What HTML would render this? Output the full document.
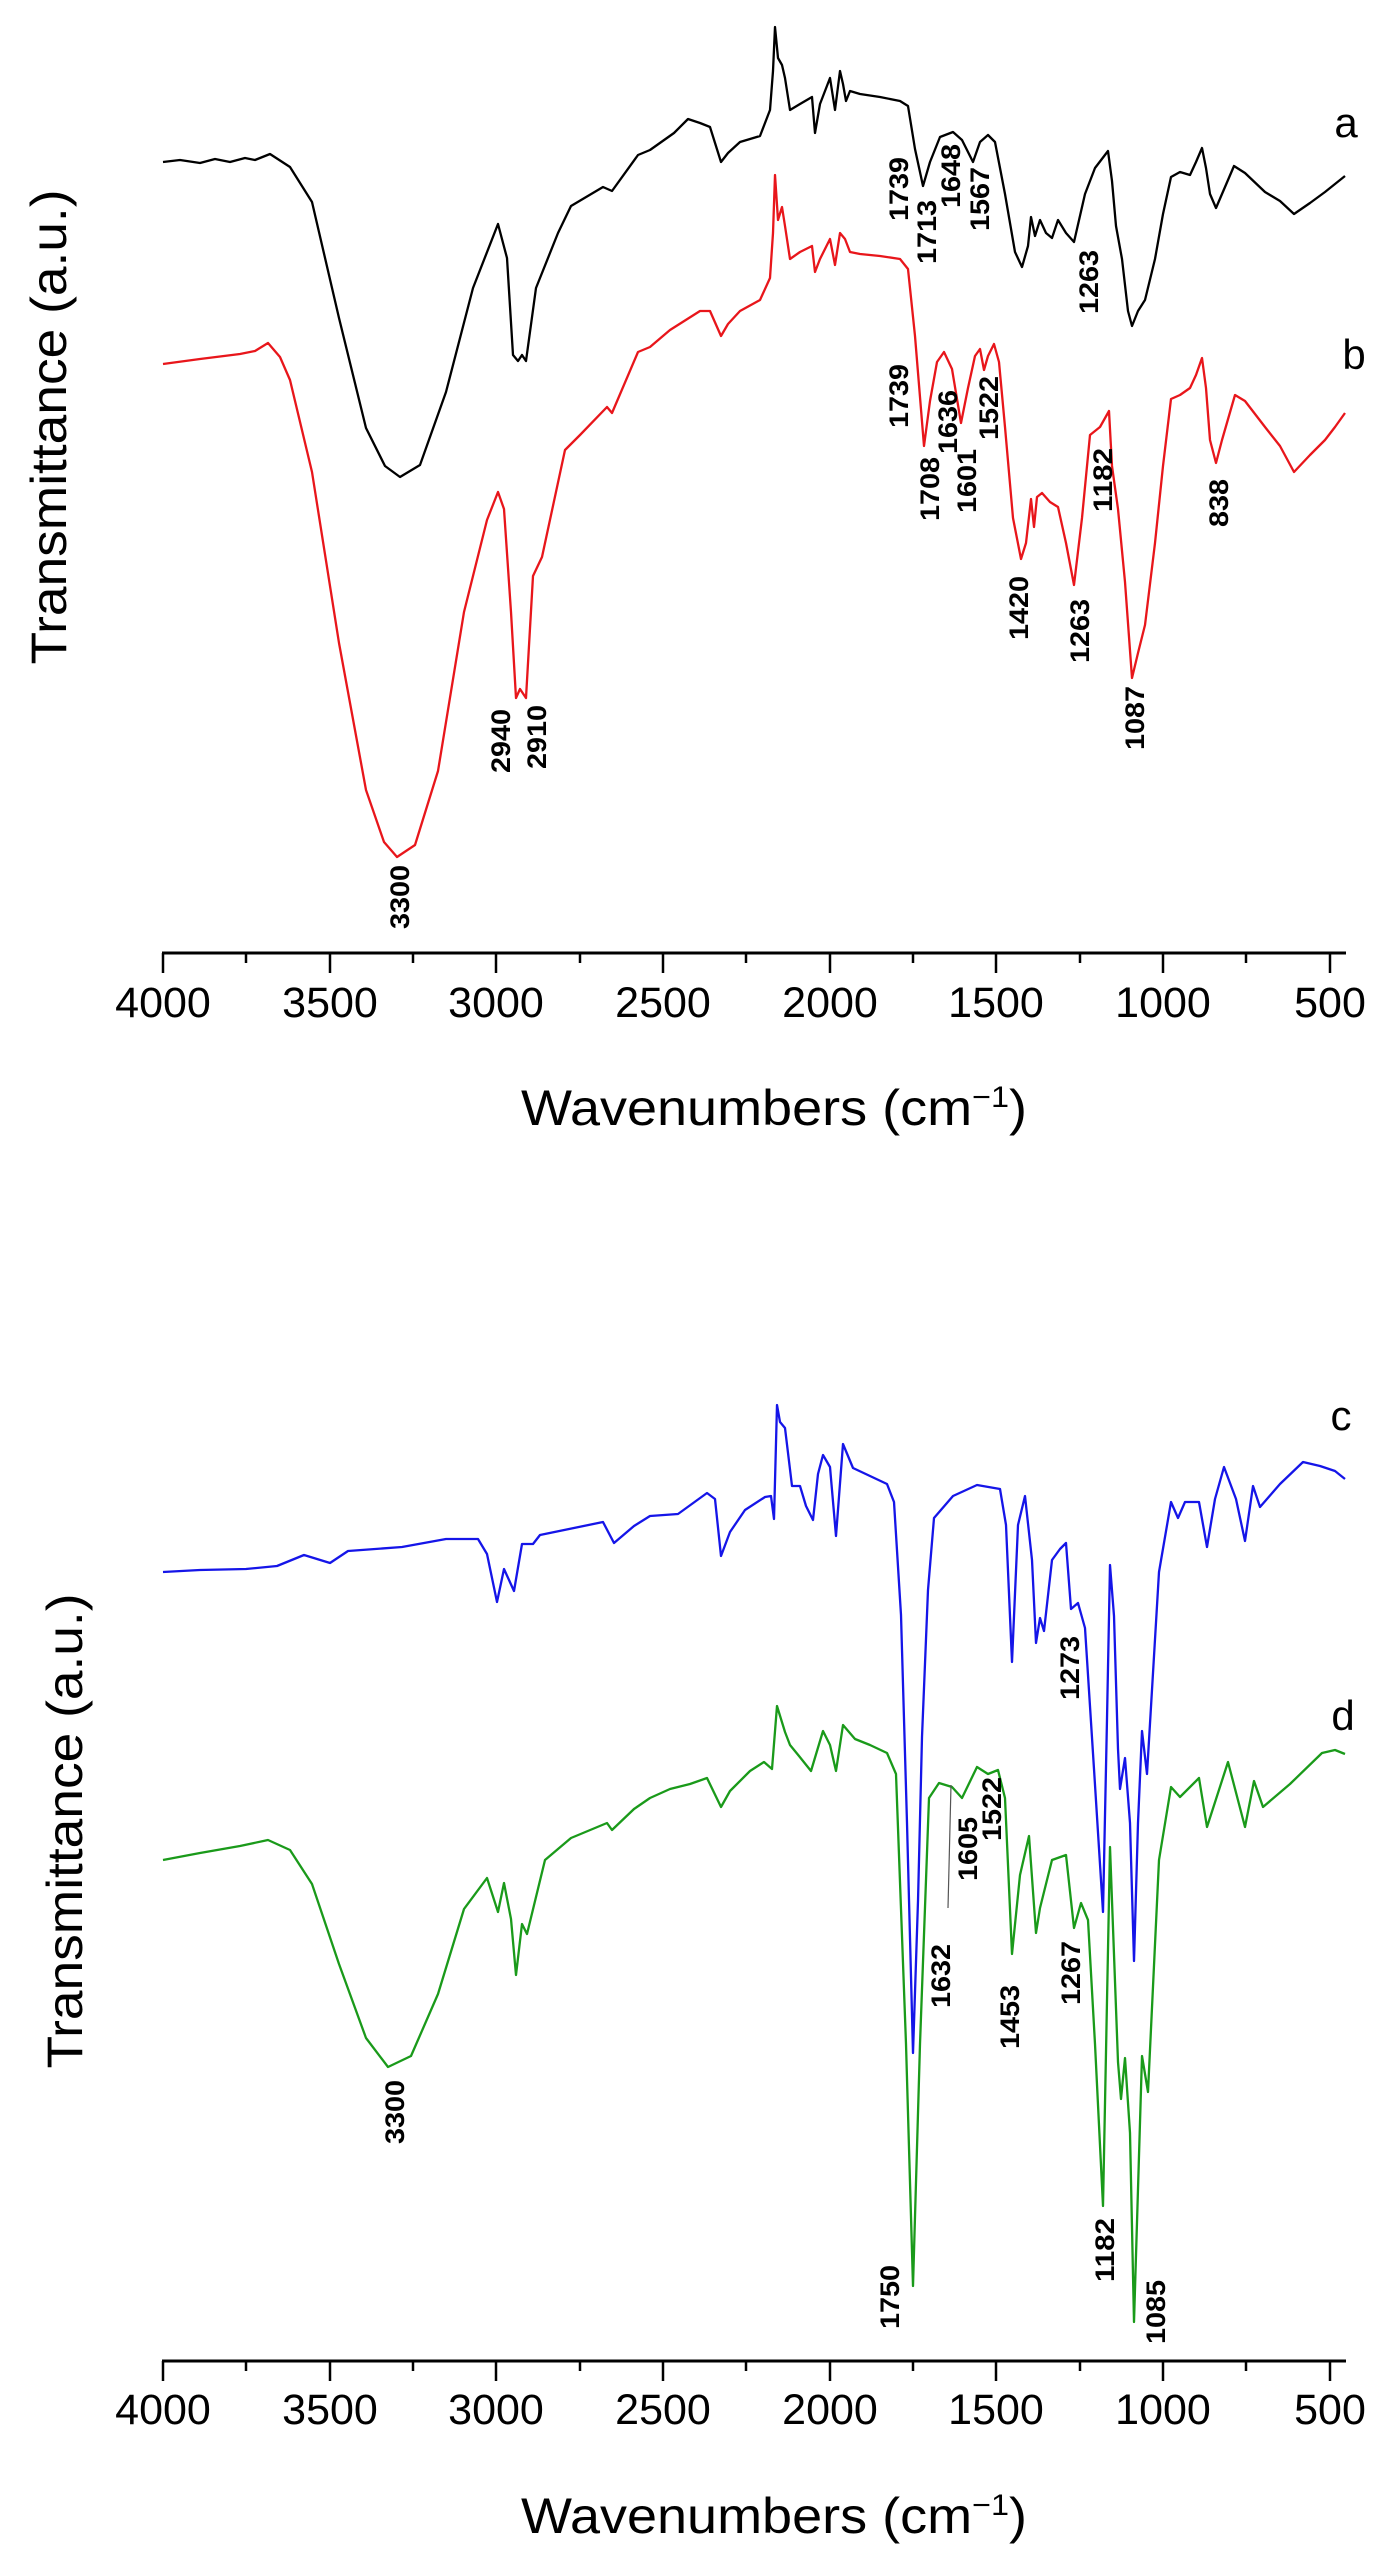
<!DOCTYPE html>
<html><head><meta charset="utf-8"><style>
html,body{margin:0;padding:0;background:#fff;}
svg{display:block;}
text{font-family:"Liberation Sans",Arial,sans-serif;}
.pk{font-weight:bold;font-size:27px;}
.tk{font-size:43px;}
</style></head><body>
<svg width="1392" height="2560" viewBox="0 0 1392 2560" xmlns="http://www.w3.org/2000/svg">
<g fill="none" stroke-linejoin="round" stroke-width="2.3">
<!-- a -->
<polyline stroke="#000" points="163,162 180,160 200,163 215,159 230,162 245,158 255,160 270,154 290,167 312,202 339,318 366,428 385,466 400,477 420,465 446,392 473,288 498,224 507,258 513,355 518,361 522,355 526,361 536,288 558,233 571,206 603,187 612,191 638,155 650,150 674,133 688,119 700,123 710,127 721,162 728,153 740,142 760,136 770,110 773,71 775,27 778,58 782,65 785,78 790,110 800,104 812,97 815,133 820,104 830,78 835,110 840,71 843,84 846,101 850,91 860,94 880,97 900,101 908,106 915,149 923,186 930,162 940,137 953,132 962,140 973,162 980,142 988,135 995,142 1005,194 1015,252 1022,267 1028,246 1031,217 1035,236 1040,220 1046,233 1052,238 1058,220 1066,233 1074,242 1085,194 1095,168 1108,151 1112,181 1116,226 1122,259 1128,311 1132,326 1138,311 1145,300 1155,259 1163,214 1171,177 1180,172 1190,175 1196,162 1202,148 1206,168 1210,194 1216,208 1222,194 1234,166 1245,173 1265,192 1280,201 1294,214 1310,203 1325,192 1335,184 1345,176"/>
<!-- b -->
<polyline stroke="#e8161b" points="163,364 200,359 240,354 255,351 268,343 280,357 290,380 312,472 339,643 366,790 384,842 397,857 415,845 438,771 464,612 487,520 498,492 504,509 511,612 516,698 520,689 526,698 533,576 542,557 565,450 580,435 607,407 612,413 638,352 650,347 670,330 700,311 710,311 721,336 728,324 740,311 760,300 770,278 773,233 775,175 778,220 782,207 785,226 790,259 800,252 812,246 815,272 820,259 830,239 835,265 840,233 845,239 850,252 860,254 880,256 900,259 908,269 915,336 924,446 930,401 937,362 944,352 952,369 961,423 968,388 975,356 980,349 984,370 988,356 994,344 999,362 1005,427 1013,518 1021,559 1026,543 1031,499 1034,527 1037,497 1042,493 1050,502 1058,507 1066,543 1074,585 1082,518 1090,435 1100,427 1109,411 1112,466 1118,509 1125,582 1132,678 1138,653 1145,625 1155,543 1163,466 1171,399 1180,395 1190,388 1196,375 1202,358 1206,388 1210,440 1216,463 1222,440 1235,395 1245,401 1265,427 1280,446 1294,472 1310,455 1325,440 1335,427 1345,413"/>
<!-- c -->
<polyline stroke="#1515e8" points="163,1572 200,1570 246,1569 277,1566 304,1555 330,1563 348,1551 402,1547 446,1539 478,1539 487,1554 497,1602 504,1569 514,1591 522,1544 533,1544 540,1535 603,1522 614,1543 634,1526 650,1516 678,1514 707,1493 715,1499 721,1556 730,1532 745,1510 765,1497 771,1496 774,1519 777,1405 780,1422 785,1428 792,1486 800,1486 806,1506 813,1520 818,1474 823,1455 830,1467 836,1536 843,1444 853,1468 870,1476 887,1484 894,1502 901,1615 907,1823 913,2053 918,1901 922,1737 928,1590 934,1518 953,1496 977,1485 1000,1489 1006,1525 1012,1662 1018,1525 1025,1496 1032,1560 1036,1643 1040,1618 1044,1631 1052,1560 1060,1549 1066,1543 1071,1609 1078,1603 1085,1628 1094,1769 1103,1912 1107,1719 1110,1565 1114,1616 1118,1749 1120,1789 1125,1758 1130,1823 1134,1961 1138,1823 1142,1731 1147,1774 1159,1572 1171,1502 1178,1518 1185,1502 1199,1502 1207,1547 1215,1499 1224,1467 1236,1499 1245,1541 1253,1486 1260,1507 1280,1484 1303,1462 1320,1466 1335,1471 1345,1479"/>
<!-- d -->
<polyline stroke="#1a9a1a" points="163,1860 200,1853 240,1846 268,1840 290,1850 312,1884 339,1964 366,2038 388,2067 411,2056 438,1994 464,1909 487,1878 498,1912 504,1883 511,1919 516,1975 522,1924 527,1934 545,1860 571,1838 607,1823 612,1830 634,1809 650,1798 670,1789 690,1784 707,1778 721,1807 730,1791 750,1771 764,1762 772,1769 777,1706 785,1732 790,1745 799,1756 811,1771 823,1731 830,1745 836,1771 843,1725 855,1739 870,1745 887,1753 896,1774 906,2044 913,2286 920,2044 929,1798 939,1783 952,1787 962,1798 977,1767 988,1774 998,1770 1005,1798 1012,1954 1020,1875 1029,1836 1036,1933 1040,1908 1052,1860 1066,1855 1074,1928 1081,1903 1088,1920 1095,2044 1103,2206 1110,1847 1118,2062 1121,2099 1125,2058 1130,2133 1134,2322 1142,2056 1148,2092 1159,1860 1171,1787 1180,1797 1199,1778 1207,1827 1228,1762 1245,1827 1254,1781 1263,1807 1290,1784 1322,1753 1335,1750 1345,1754"/>
<line x1="948" y1="1908" x2="951" y2="1785" stroke="#555" stroke-width="1.2"/>
</g>
<!-- axes -->
<g stroke="#000" stroke-width="3" fill="none">
<line x1="162" y1="953" x2="1346" y2="953"/>
<line x1="162" y1="2361" x2="1346" y2="2361"/>
</g>
<g stroke="#000" stroke-width="2.5">
<line x1="163" y1="953" x2="163" y2="973"/><line x1="246" y1="953" x2="246" y2="963"/>
<line x1="330" y1="953" x2="330" y2="973"/><line x1="413" y1="953" x2="413" y2="963"/>
<line x1="496" y1="953" x2="496" y2="973"/><line x1="580" y1="953" x2="580" y2="963"/>
<line x1="663" y1="953" x2="663" y2="973"/><line x1="746" y1="953" x2="746" y2="963"/>
<line x1="830" y1="953" x2="830" y2="973"/><line x1="913" y1="953" x2="913" y2="963"/>
<line x1="996" y1="953" x2="996" y2="973"/><line x1="1080" y1="953" x2="1080" y2="963"/>
<line x1="1163" y1="953" x2="1163" y2="973"/><line x1="1246" y1="953" x2="1246" y2="963"/>
<line x1="1330" y1="953" x2="1330" y2="973"/>
<line x1="163" y1="2361" x2="163" y2="2381"/><line x1="246" y1="2361" x2="246" y2="2371"/>
<line x1="330" y1="2361" x2="330" y2="2381"/><line x1="413" y1="2361" x2="413" y2="2371"/>
<line x1="496" y1="2361" x2="496" y2="2381"/><line x1="580" y1="2361" x2="580" y2="2371"/>
<line x1="663" y1="2361" x2="663" y2="2381"/><line x1="746" y1="2361" x2="746" y2="2371"/>
<line x1="830" y1="2361" x2="830" y2="2381"/><line x1="913" y1="2361" x2="913" y2="2371"/>
<line x1="996" y1="2361" x2="996" y2="2381"/><line x1="1080" y1="2361" x2="1080" y2="2371"/>
<line x1="1163" y1="2361" x2="1163" y2="2381"/><line x1="1246" y1="2361" x2="1246" y2="2371"/>
<line x1="1330" y1="2361" x2="1330" y2="2381"/>
</g>
<g class="tk" text-anchor="middle" fill="#000">
<text x="163" y="1017">4000</text><text x="330" y="1017">3500</text><text x="496" y="1017">3000</text><text x="663" y="1017">2500</text><text x="830" y="1017">2000</text><text x="996" y="1017">1500</text><text x="1163" y="1017">1000</text><text x="1330" y="1017">500</text>
<text x="163" y="2424">4000</text><text x="330" y="2424">3500</text><text x="496" y="2424">3000</text><text x="663" y="2424">2500</text><text x="830" y="2424">2000</text><text x="996" y="2424">1500</text><text x="1163" y="2424">1000</text><text x="1330" y="2424">500</text>
</g>
<g font-size="50" text-anchor="middle" fill="#000">
<text x="774" y="1125" textLength="506" lengthAdjust="spacingAndGlyphs">Wavenumbers (cm<tspan dy="-18" font-size="30">−1</tspan><tspan dy="18">)</tspan></text>
<text x="774" y="2533" textLength="506" lengthAdjust="spacingAndGlyphs">Wavenumbers (cm<tspan dy="-18" font-size="30">−1</tspan><tspan dy="18">)</tspan></text>
<text transform="translate(66,427) rotate(-90)" y="0" textLength="475" lengthAdjust="spacingAndGlyphs">Transmittance (a.u.)</text>
<text transform="translate(82,1831) rotate(-90)" y="0" textLength="475" lengthAdjust="spacingAndGlyphs">Transmittance (a.u.)</text>
</g>
<g font-size="42" fill="#000" text-anchor="middle">
<text x="1346" y="137">a</text><text x="1354" y="369">b</text>
<text x="1341" y="1430">c</text><text x="1343" y="1730">d</text>
</g>
<g class="pk" fill="#000" text-anchor="middle">
<text transform="translate(898,189) rotate(-90)" y="10" textLength="64" lengthAdjust="spacingAndGlyphs">1739</text>
<text transform="translate(926,232) rotate(-90)" y="10" textLength="64" lengthAdjust="spacingAndGlyphs">1713</text>
<text transform="translate(950,176) rotate(-90)" y="10" textLength="64" lengthAdjust="spacingAndGlyphs">1648</text>
<text transform="translate(979,199) rotate(-90)" y="10" textLength="64" lengthAdjust="spacingAndGlyphs">1567</text>
<text transform="translate(1088,282) rotate(-90)" y="10" textLength="64" lengthAdjust="spacingAndGlyphs">1263</text>
<text transform="translate(898,396) rotate(-90)" y="10" textLength="64" lengthAdjust="spacingAndGlyphs">1739</text>
<text transform="translate(929,489) rotate(-90)" y="10" textLength="64" lengthAdjust="spacingAndGlyphs">1708</text>
<text transform="translate(947,422) rotate(-90)" y="10" textLength="64" lengthAdjust="spacingAndGlyphs">1636</text>
<text transform="translate(966,481) rotate(-90)" y="10" textLength="64" lengthAdjust="spacingAndGlyphs">1601</text>
<text transform="translate(988,408) rotate(-90)" y="10" textLength="64" lengthAdjust="spacingAndGlyphs">1522</text>
<text transform="translate(1018,608) rotate(-90)" y="10" textLength="64" lengthAdjust="spacingAndGlyphs">1420</text>
<text transform="translate(1079,631) rotate(-90)" y="10" textLength="64" lengthAdjust="spacingAndGlyphs">1263</text>
<text transform="translate(1102,480) rotate(-90)" y="10" textLength="64" lengthAdjust="spacingAndGlyphs">1182</text>
<text transform="translate(1218,503) rotate(-90)" y="10" textLength="48" lengthAdjust="spacingAndGlyphs">838</text>
<text transform="translate(1134,718) rotate(-90)" y="10" textLength="64" lengthAdjust="spacingAndGlyphs">1087</text>
<text transform="translate(500,741) rotate(-90)" y="10" textLength="64" lengthAdjust="spacingAndGlyphs">2940</text>
<text transform="translate(536,737) rotate(-90)" y="10" textLength="64" lengthAdjust="spacingAndGlyphs">2910</text>
<text transform="translate(399,897) rotate(-90)" y="10" textLength="64" lengthAdjust="spacingAndGlyphs">3300</text>
<text transform="translate(1069,1668) rotate(-90)" y="10" textLength="64" lengthAdjust="spacingAndGlyphs">1273</text>
<text transform="translate(967,1849) rotate(-90)" y="10" textLength="64" lengthAdjust="spacingAndGlyphs">1605</text>
<text transform="translate(991,1809) rotate(-90)" y="10" textLength="64" lengthAdjust="spacingAndGlyphs">1522</text>
<text transform="translate(940,1976) rotate(-90)" y="10" textLength="64" lengthAdjust="spacingAndGlyphs">1632</text>
<text transform="translate(1009,2017) rotate(-90)" y="10" textLength="64" lengthAdjust="spacingAndGlyphs">1453</text>
<text transform="translate(1070,1973) rotate(-90)" y="10" textLength="64" lengthAdjust="spacingAndGlyphs">1267</text>
<text transform="translate(1104,2250) rotate(-90)" y="10" textLength="64" lengthAdjust="spacingAndGlyphs">1182</text>
<text transform="translate(889,2297) rotate(-90)" y="10" textLength="64" lengthAdjust="spacingAndGlyphs">1750</text>
<text transform="translate(1155,2312) rotate(-90)" y="10" textLength="64" lengthAdjust="spacingAndGlyphs">1085</text>
<text transform="translate(394,2112) rotate(-90)" y="10" textLength="64" lengthAdjust="spacingAndGlyphs">3300</text>
</g>
</svg>
</body></html>
